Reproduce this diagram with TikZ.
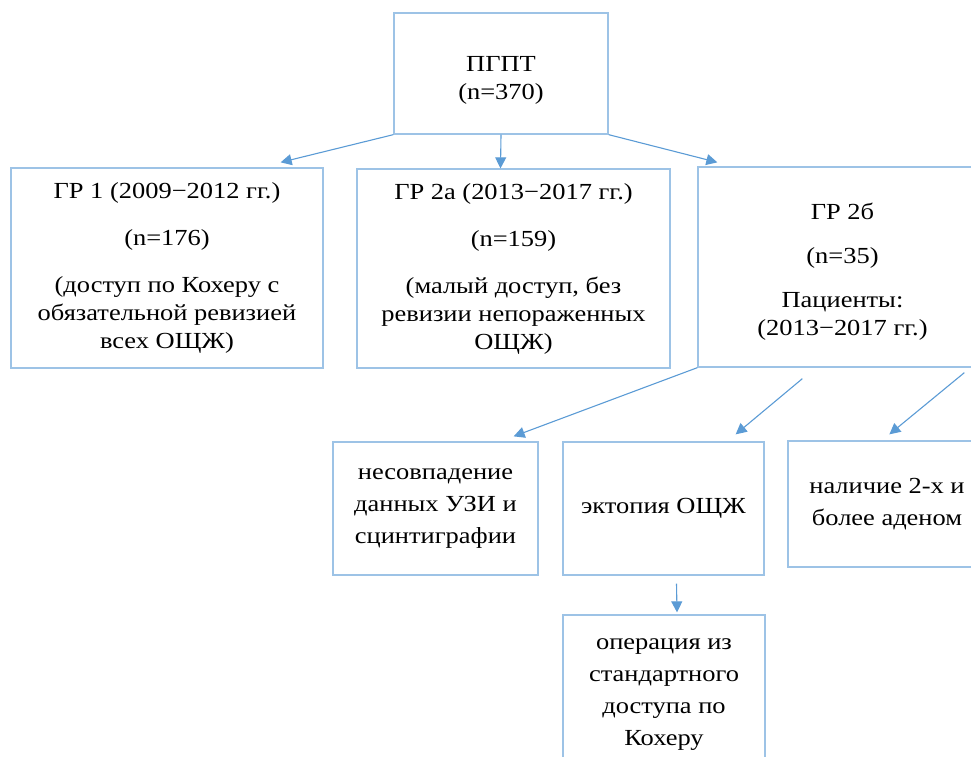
\documentclass[tikz,border=0pt]{standalone}
\usepackage{fontspec}
\setmainfont{Liberation Serif}[FakeStretch=1.15]
\usetikzlibrary{arrows.meta}

\definecolor{boxblue}{RGB}{157,195,230}
\definecolor{arrblue}{RGB}{91,155,213}

\tikzset{
	grbox/.style={draw=boxblue, line width=1.3pt, align=center, inner sep=0pt},
	wide/.style={font=\fontsize{23}{28}\selectfont},
	tall/.style={font=\fontsize{23}{32}\selectfont},
	grarrow/.style={draw=arrblue, line width=1.1pt, -{Triangle[length=11pt,width=11pt]}},
}

\begin{document}
\begin{tikzpicture}[x=1pt, y=-1pt] % groups of patients
\useasboundingbox (0,0) rectangle (971,756);
\clip (0,0) rectangle (971,756);

\node[grbox, wide, minimum width=214pt, minimum height=121pt] (pgpt) at (501,73.5) {\rule{0pt}{29pt}ПГПТ\\(n=370)};

\node[grbox, wide, minimum width=312pt, minimum height=200pt] (gr1) at (167,268)
	{ГР 1 (2009−2012 гг.)\\[19pt](n=176)\\[19pt](доступ по Кохеру с\\обязательной ревизией\\всех ОЩЖ)};
\node[grbox, wide, minimum width=313pt, minimum height=199pt] (gr2a) at (513.5,268.5)
	{ГР 2а (2013−2017 гг.)\\[19pt](n=159)\\[19pt](малый доступ, без\\ревизии непораженных\\ОЩЖ)};
\node[grbox, wide, minimum width=289pt, minimum height=200pt] (gr2b) at (842.5,267)
	{\rule{0pt}{25pt}ГР 2б\\[16pt](n=35)\\[16pt]Пациенты:\\(2013−2017 гг.)};

\node[grbox, tall, minimum width=205pt, minimum height=133pt] (mismatch) at (435.5,508.5)
	{несовпадение\\данных УЗИ и\\сцинтиграфии};
\node[grbox, tall, minimum width=201pt, minimum height=133pt] (ectopy) at (663.5,508.5)
	{эктопия ОЩЖ};
\node[grbox, tall, minimum width=198pt, minimum height=126pt] (adenoma) at (887,504)
	{наличие 2-х и\\более аденом};
\node[grbox, tall, minimum width=202pt, minimum height=160pt] (kocher) at (664,695)
	{операция из\\стандартного\\доступа по\\Кохеру};

\draw[grarrow] (pgpt.south west) -- ([xshift=-43pt,yshift=5pt]gr1.north east);
\draw[grarrow] (pgpt.south) -- ([xshift=-13pt]gr2a.north);
\draw[grarrow] (pgpt.south east) -- ([xshift=20pt,yshift=4pt]gr2b.north west);

\draw[grarrow] (gr2b.south west) -- ([xshift=-25pt,yshift=5pt]mismatch.north east);
\draw[grarrow] ([xshift=105pt,yshift=-11pt]gr2b.south west) -- ([xshift=-29pt,yshift=7pt]ectopy.north east);
\draw[grarrow] ([xshift=267pt,yshift=-5pt]gr2b.south west) -- ([xshift=102pt,yshift=6pt]adenoma.north west);

\draw[grarrow] ([xshift=13pt,yshift=-8pt]ectopy.south) -- ([xshift=13pt,yshift=2pt]kocher.north);
\end{tikzpicture}
\end{document}
